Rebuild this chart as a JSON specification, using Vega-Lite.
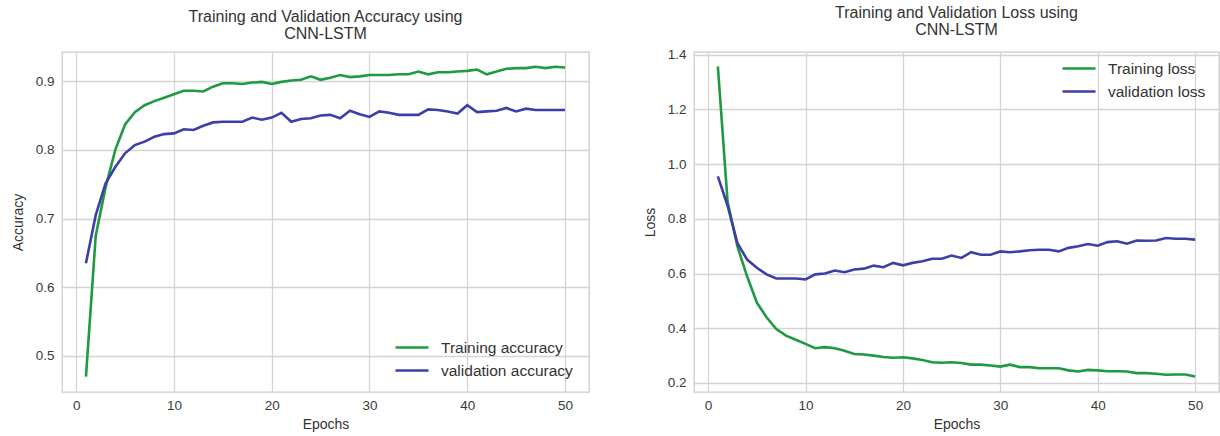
{
  "$schema": "https://vega.github.io/schema/vega-lite/v6.json",
  "background": "white",
  "padding": {"left": 10, "top": 4, "right": 0, "bottom": 0},
  "bounds": "flush",
  "spacing": 105,
  "config": {
    "font": "Liberation Sans",
    "view": {"stroke": "#cccccc", "strokeWidth": 1.3},
    "axis": {
      "grid": true,
      "gridColor": "#d4d4d4",
      "gridWidth": 1.3,
      "domain": false,
      "ticks": false,
      "labelFont": "Liberation Sans",
      "labelFontSize": 13.5,
      "labelColor": "#3a3a3a",
      "titleFont": "Liberation Sans",
      "titleFontSize": 14,
      "titleFontWeight": "normal",
      "titleColor": "#333333"
    },
    "legend": {
      "title": null,
      "symbolType": "stroke",
      "symbolStrokeWidth": 2.6,
      "symbolSize": 1089,
      "labelFont": "Liberation Sans",
      "labelFontSize": 15.5,
      "labelColor": "#333333",
      "labelOffset": 11,
      "padding": 0,
      "rowPadding": 0,
      "clipHeight": 23
    },
    "title": {
      "font": "Liberation Sans",
      "fontSize": 16,
      "fontWeight": "normal",
      "color": "#333333",
      "lineHeight": 17,
      "offset": 10,
      "anchor": "middle"
    },
    "line": {"strokeWidth": 2.6}
  },
  "datasets": {
    "acc": [
      {"e":1,"s":"Training accuracy","v":0.47},{"e":2,"s":"Training accuracy","v":0.675},{"e":3,"s":"Training accuracy","v":0.745},{"e":4,"s":"Training accuracy","v":0.8},{"e":5,"s":"Training accuracy","v":0.837},
      {"e":6,"s":"Training accuracy","v":0.855},{"e":7,"s":"Training accuracy","v":0.865},{"e":8,"s":"Training accuracy","v":0.871},{"e":9,"s":"Training accuracy","v":0.876},{"e":10,"s":"Training accuracy","v":0.881},
      {"e":11,"s":"Training accuracy","v":0.886},{"e":12,"s":"Training accuracy","v":0.886},{"e":13,"s":"Training accuracy","v":0.885},{"e":14,"s":"Training accuracy","v":0.892},{"e":15,"s":"Training accuracy","v":0.897},
      {"e":16,"s":"Training accuracy","v":0.897},{"e":17,"s":"Training accuracy","v":0.896},{"e":18,"s":"Training accuracy","v":0.898},{"e":19,"s":"Training accuracy","v":0.899},{"e":20,"s":"Training accuracy","v":0.896},
      {"e":21,"s":"Training accuracy","v":0.899},{"e":22,"s":"Training accuracy","v":0.901},{"e":23,"s":"Training accuracy","v":0.902},{"e":24,"s":"Training accuracy","v":0.907},{"e":25,"s":"Training accuracy","v":0.902},
      {"e":26,"s":"Training accuracy","v":0.905},{"e":27,"s":"Training accuracy","v":0.909},{"e":28,"s":"Training accuracy","v":0.906},{"e":29,"s":"Training accuracy","v":0.907},{"e":30,"s":"Training accuracy","v":0.909},
      {"e":31,"s":"Training accuracy","v":0.909},{"e":32,"s":"Training accuracy","v":0.909},{"e":33,"s":"Training accuracy","v":0.91},{"e":34,"s":"Training accuracy","v":0.91},{"e":35,"s":"Training accuracy","v":0.914},
      {"e":36,"s":"Training accuracy","v":0.91},{"e":37,"s":"Training accuracy","v":0.913},{"e":38,"s":"Training accuracy","v":0.913},{"e":39,"s":"Training accuracy","v":0.914},{"e":40,"s":"Training accuracy","v":0.915},
      {"e":41,"s":"Training accuracy","v":0.917},{"e":42,"s":"Training accuracy","v":0.91},{"e":43,"s":"Training accuracy","v":0.914},{"e":44,"s":"Training accuracy","v":0.918},{"e":45,"s":"Training accuracy","v":0.919},
      {"e":46,"s":"Training accuracy","v":0.919},{"e":47,"s":"Training accuracy","v":0.921},{"e":48,"s":"Training accuracy","v":0.919},{"e":49,"s":"Training accuracy","v":0.921},{"e":50,"s":"Training accuracy","v":0.92},
      {"e":1,"s":"validation accuracy","v":0.635},{"e":2,"s":"validation accuracy","v":0.705},{"e":3,"s":"validation accuracy","v":0.751},{"e":4,"s":"validation accuracy","v":0.775},{"e":5,"s":"validation accuracy","v":0.795},
      {"e":6,"s":"validation accuracy","v":0.807},{"e":7,"s":"validation accuracy","v":0.812},{"e":8,"s":"validation accuracy","v":0.819},{"e":9,"s":"validation accuracy","v":0.823},{"e":10,"s":"validation accuracy","v":0.824},
      {"e":11,"s":"validation accuracy","v":0.83},{"e":12,"s":"validation accuracy","v":0.829},{"e":13,"s":"validation accuracy","v":0.835},{"e":14,"s":"validation accuracy","v":0.84},{"e":15,"s":"validation accuracy","v":0.841},
      {"e":16,"s":"validation accuracy","v":0.841},{"e":17,"s":"validation accuracy","v":0.841},{"e":18,"s":"validation accuracy","v":0.847},{"e":19,"s":"validation accuracy","v":0.844},{"e":20,"s":"validation accuracy","v":0.847},
      {"e":21,"s":"validation accuracy","v":0.854},{"e":22,"s":"validation accuracy","v":0.841},{"e":23,"s":"validation accuracy","v":0.845},{"e":24,"s":"validation accuracy","v":0.846},{"e":25,"s":"validation accuracy","v":0.85},
      {"e":26,"s":"validation accuracy","v":0.851},{"e":27,"s":"validation accuracy","v":0.846},{"e":28,"s":"validation accuracy","v":0.857},{"e":29,"s":"validation accuracy","v":0.852},{"e":30,"s":"validation accuracy","v":0.848},
      {"e":31,"s":"validation accuracy","v":0.856},{"e":32,"s":"validation accuracy","v":0.854},{"e":33,"s":"validation accuracy","v":0.851},{"e":34,"s":"validation accuracy","v":0.851},{"e":35,"s":"validation accuracy","v":0.851},
      {"e":36,"s":"validation accuracy","v":0.859},{"e":37,"s":"validation accuracy","v":0.858},{"e":38,"s":"validation accuracy","v":0.856},{"e":39,"s":"validation accuracy","v":0.853},{"e":40,"s":"validation accuracy","v":0.865},
      {"e":41,"s":"validation accuracy","v":0.855},{"e":42,"s":"validation accuracy","v":0.856},{"e":43,"s":"validation accuracy","v":0.857},{"e":44,"s":"validation accuracy","v":0.861},{"e":45,"s":"validation accuracy","v":0.856},
      {"e":46,"s":"validation accuracy","v":0.86},{"e":47,"s":"validation accuracy","v":0.858},{"e":48,"s":"validation accuracy","v":0.858},{"e":49,"s":"validation accuracy","v":0.858},{"e":50,"s":"validation accuracy","v":0.858}
    ],
    "loss": [
      {"e":1,"s":"Training loss","v":1.357},{"e":2,"s":"Training loss","v":0.862},{"e":3,"s":"Training loss","v":0.7},{"e":4,"s":"Training loss","v":0.59},{"e":5,"s":"Training loss","v":0.494},
      {"e":6,"s":"Training loss","v":0.44},{"e":7,"s":"Training loss","v":0.397},{"e":8,"s":"Training loss","v":0.373},{"e":9,"s":"Training loss","v":0.358},{"e":10,"s":"Training loss","v":0.343},
      {"e":11,"s":"Training loss","v":0.327},{"e":12,"s":"Training loss","v":0.331},{"e":13,"s":"Training loss","v":0.327},{"e":14,"s":"Training loss","v":0.318},{"e":15,"s":"Training loss","v":0.306},
      {"e":16,"s":"Training loss","v":0.304},{"e":17,"s":"Training loss","v":0.3},{"e":18,"s":"Training loss","v":0.295},{"e":19,"s":"Training loss","v":0.292},{"e":20,"s":"Training loss","v":0.294},
      {"e":21,"s":"Training loss","v":0.29},{"e":22,"s":"Training loss","v":0.284},{"e":23,"s":"Training loss","v":0.276},{"e":24,"s":"Training loss","v":0.274},{"e":25,"s":"Training loss","v":0.276},
      {"e":26,"s":"Training loss","v":0.273},{"e":27,"s":"Training loss","v":0.267},{"e":28,"s":"Training loss","v":0.267},{"e":29,"s":"Training loss","v":0.264},{"e":30,"s":"Training loss","v":0.26},
      {"e":31,"s":"Training loss","v":0.267},{"e":32,"s":"Training loss","v":0.258},{"e":33,"s":"Training loss","v":0.258},{"e":34,"s":"Training loss","v":0.254},{"e":35,"s":"Training loss","v":0.254},
      {"e":36,"s":"Training loss","v":0.254},{"e":37,"s":"Training loss","v":0.246},{"e":38,"s":"Training loss","v":0.242},{"e":39,"s":"Training loss","v":0.248},{"e":40,"s":"Training loss","v":0.246},
      {"e":41,"s":"Training loss","v":0.243},{"e":42,"s":"Training loss","v":0.243},{"e":43,"s":"Training loss","v":0.242},{"e":44,"s":"Training loss","v":0.236},{"e":45,"s":"Training loss","v":0.236},
      {"e":46,"s":"Training loss","v":0.234},{"e":47,"s":"Training loss","v":0.23},{"e":48,"s":"Training loss","v":0.231},{"e":49,"s":"Training loss","v":0.231},{"e":50,"s":"Training loss","v":0.224},
      {"e":1,"s":"validation loss","v":0.955},{"e":2,"s":"validation loss","v":0.848},{"e":3,"s":"validation loss","v":0.712},{"e":4,"s":"validation loss","v":0.651},{"e":5,"s":"validation loss","v":0.621},
      {"e":6,"s":"validation loss","v":0.597},{"e":7,"s":"validation loss","v":0.582},{"e":8,"s":"validation loss","v":0.582},{"e":9,"s":"validation loss","v":0.582},{"e":10,"s":"validation loss","v":0.579},
      {"e":11,"s":"validation loss","v":0.597},{"e":12,"s":"validation loss","v":0.6},{"e":13,"s":"validation loss","v":0.611},{"e":14,"s":"validation loss","v":0.605},{"e":15,"s":"validation loss","v":0.615},
      {"e":16,"s":"validation loss","v":0.618},{"e":17,"s":"validation loss","v":0.629},{"e":18,"s":"validation loss","v":0.623},{"e":19,"s":"validation loss","v":0.639},{"e":20,"s":"validation loss","v":0.63},
      {"e":21,"s":"validation loss","v":0.639},{"e":22,"s":"validation loss","v":0.645},{"e":23,"s":"validation loss","v":0.654},{"e":24,"s":"validation loss","v":0.654},{"e":25,"s":"validation loss","v":0.666},
      {"e":26,"s":"validation loss","v":0.657},{"e":27,"s":"validation loss","v":0.678},{"e":28,"s":"validation loss","v":0.669},{"e":29,"s":"validation loss","v":0.669},{"e":30,"s":"validation loss","v":0.681},
      {"e":31,"s":"validation loss","v":0.678},{"e":32,"s":"validation loss","v":0.681},{"e":33,"s":"validation loss","v":0.685},{"e":34,"s":"validation loss","v":0.687},{"e":35,"s":"validation loss","v":0.687},
      {"e":36,"s":"validation loss","v":0.681},{"e":37,"s":"validation loss","v":0.694},{"e":38,"s":"validation loss","v":0.7},{"e":39,"s":"validation loss","v":0.708},{"e":40,"s":"validation loss","v":0.702},
      {"e":41,"s":"validation loss","v":0.715},{"e":42,"s":"validation loss","v":0.718},{"e":43,"s":"validation loss","v":0.709},{"e":44,"s":"validation loss","v":0.721},{"e":45,"s":"validation loss","v":0.72},
      {"e":46,"s":"validation loss","v":0.721},{"e":47,"s":"validation loss","v":0.73},{"e":48,"s":"validation loss","v":0.727},{"e":49,"s":"validation loss","v":0.727},{"e":50,"s":"validation loss","v":0.724}
    ]
  },
  "resolve": {"scale": {"color": "independent"}, "legend": {"color": "independent"}},
  "hconcat": [
    {
      "width": 527,
      "height": 340,
      "title": {"text": ["Training and Validation Accuracy using", "CNN-LSTM"]},
      "data": {"name": "acc"},
      "mark": {"type": "line", "interpolate": "linear"},
      "encoding": {
        "x": {"field": "e", "type": "quantitative", "scale": {"domain": [-1.45, 52.45], "nice": false, "zero": false},
              "axis": {"values": [0, 10, 20, 30, 40, 50], "title": "Epochs", "labelPadding": 6, "titlePadding": 6}},
        "y": {"field": "v", "type": "quantitative", "scale": {"domain": [0.4475, 0.9425], "nice": false, "zero": false},
              "axis": {"values": [0.5, 0.6, 0.7, 0.8, 0.9], "format": ".1f", "title": "Accuracy", "labelPadding": 8, "titlePadding": 10}},
        "color": {"field": "s", "type": "nominal",
                  "scale": {"domain": ["Training accuracy", "validation accuracy"], "range": ["#1f9a40", "#3c3fa8"]},
                  "legend": {"orient": "none", "legendX": 332, "legendY": 284}}
      }
    },
    {
      "width": 525,
      "height": 340,
      "title": {"text": ["Training and Validation Loss using", "CNN-LSTM"]},
      "data": {"name": "loss"},
      "mark": {"type": "line", "interpolate": "linear"},
      "encoding": {
        "x": {"field": "e", "type": "quantitative", "scale": {"domain": [-1.45, 52.45], "nice": false, "zero": false},
              "axis": {"values": [0, 10, 20, 30, 40, 50], "title": "Epochs", "labelPadding": 6, "titlePadding": 6}},
        "y": {"field": "v", "type": "quantitative", "scale": {"domain": [0.167, 1.41], "nice": false, "zero": false},
              "axis": {"values": [0.2, 0.4, 0.6, 0.8, 1.0, 1.2, 1.4], "format": ".1f", "title": "Loss", "labelPadding": 8, "titlePadding": 10}},
        "color": {"field": "s", "type": "nominal",
                  "scale": {"domain": ["Training loss", "validation loss"], "range": ["#1f9a40", "#3c3fa8"]},
                  "legend": {"orient": "none", "legendX": 367, "legendY": 5}}
      }
    }
  ]
}
